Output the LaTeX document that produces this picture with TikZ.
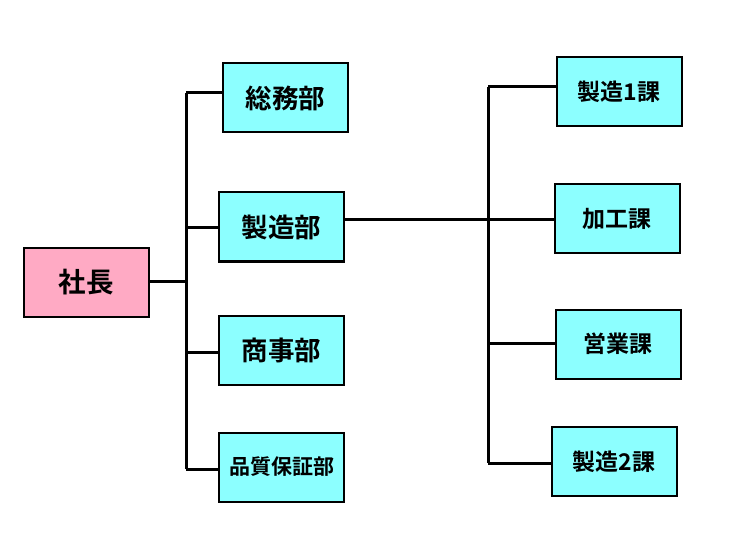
\documentclass[tikz,border=0pt]{standalone}
\usepackage{fontspec}
\setmainfont{Noto Sans CJK JP}[BoldFont={Noto Sans CJK JP Bold}]
\definecolor{boxcyan}{HTML}{8CFFFF}
\definecolor{boxpink}{HTML}{FFAAC4}
\begin{document}
\begin{tikzpicture}[x=1pt,y=-1pt,
  orgbox/.style={draw=black,line width=2pt,fill=boxcyan,minimum width=125pt,minimum height=69pt,inner sep=0pt,font=\bfseries\fontsize{26.5}{26.5}\selectfont},
  subbox/.style={orgbox,font=\bfseries\fontsize{23}{23}\selectfont},
  topbox/.style={orgbox,fill=boxpink,font=\bfseries\fontsize{27.5}{27.5}\selectfont},
  link/.style={line width=3pt,line cap=butt}]
\useasboundingbox[fill=white] (0,0) rectangle (731,548);
\node[topbox] (shacho) at (86,282.5) {社長};
\node[orgbox] (somu) at (285.5,98) {総務部};
\node[orgbox] (seizo) at (281.5,227) {製造部};
\node[orgbox] (shoji) at (281.5,350) {商事部};
\node[orgbox,font=\bfseries\fontsize{21}{21}\selectfont] (hinshitsu) at (281.5,467) {品質保証部};
\node[subbox] (ka1) at (619,91.5) {製造1課};
\node[subbox] (kako) at (617,218.5) {加工課};
\node[subbox] (eigyo) at (618,344) {営業課};
\node[subbox] (ka2) at (614,461.5) {製造2課};
% left tree
\coordinate (lt) at (186,93);
\coordinate (lb) at (186,469);
\coordinate (lm) at (186,281);
\coordinate (l2) at (186,228);
\coordinate (l3) at (186,352);
\draw[link] (lt) -- (lb);
\draw[link] (shacho.east |- lm) -- (lm);
\draw[link] (lt) -- (lt -| somu.west);
\draw[link] (l2) -- (l2 -| seizo.west);
\draw[link] (l3) -- (l3 -| shoji.west);
\draw[link] (lb) -- (lb -| hinshitsu.west);
% right tree
\coordinate (rt) at (488,87);
\coordinate (rb) at (488,463);
\coordinate (rm) at (488,220);
\coordinate (r3) at (488,343);
\draw[link] (rt) -- (rb);
\draw[link] (seizo.east |- rm) -- (rm -| kako.west);
\draw[link] (rt) -- (rt -| ka1.west);
\draw[link] (r3) -- (r3 -| eigyo.west);
\draw[link] (rb) -- (rb -| ka2.west);
\end{tikzpicture}
\end{document}
